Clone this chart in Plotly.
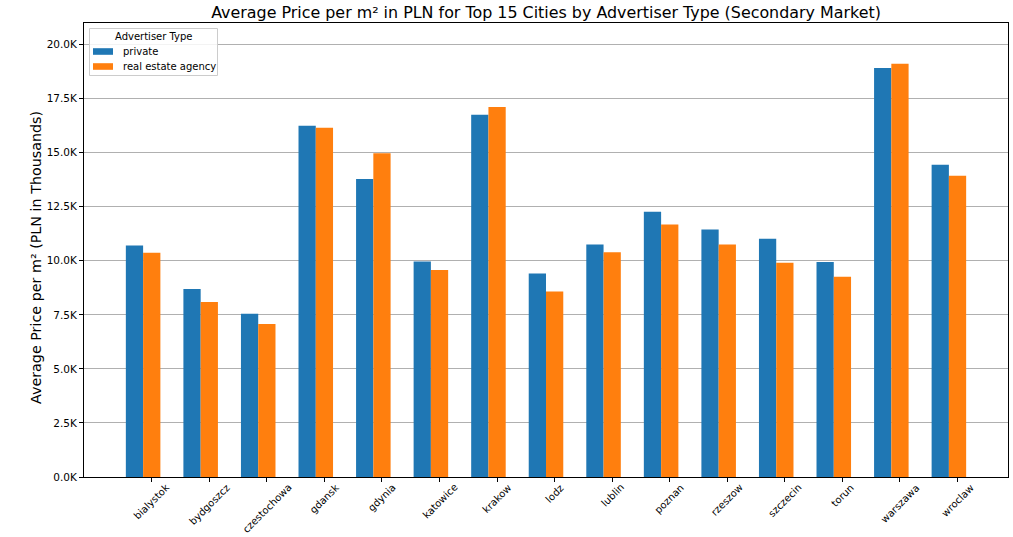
import plotly.graph_objects as go

cities = ["bialystok", "bydgoszcz", "czestochowa", "gdansk", "gdynia", "katowice", "krakow",
          "lodz", "lublin", "poznan", "rzeszow", "szczecin", "torun", "warszawa", "wroclaw"]
private = [10710, 8700, 7550, 16250, 13780, 9970, 16760, 9410, 10750, 12270, 11450, 11020, 9950, 18920, 14440]
agency = [10370, 8100, 7080, 16160, 14970, 9580, 17110, 8580, 10400, 11680, 10760, 9910, 9260, 19120, 13940]
ytick_vals = [0, 2500, 5000, 7500, 10000, 12500, 15000, 17500, 20000]
ytick_text = ["0.0K", "2.5K", "5.0K", "7.5K", "10.0K", "12.5K", "15.0K", "17.5K", "20.0K"]
series_names = ["private", "real estate agency"]
series_colors = ["#1f77b4", "#ff7f0e"]

W = 0.3
idx = list(range(len(cities)))
fig = go.Figure()
fig.add_trace(go.Bar(x=idx, y=private, width=W, name=series_names[0],
                     marker=dict(color=series_colors[0], line=dict(width=0))))
fig.add_trace(go.Bar(x=[i + W for i in idx], y=agency, width=W, name=series_names[1],
                     marker=dict(color=series_colors[1], line=dict(width=0))))

font = "DejaVu Sans, sans-serif"
# plot area in pixels
L, R, T, B = 84, 1008, 23, 477
def px(x):
    return (x - L) / (R - L)
def py(y):
    return (B - y) / (B - T)

annotations = []
# x tick labels, rotated 45 and centred under the tick (matplotlib style)
for i, c in enumerate(cities):
    annotations.append(dict(x=i + W, xref="x", y=0, yref="paper", text=c, showarrow=False,
                            textangle=-45, xanchor="center", yanchor="top", yshift=-2,
                            font=dict(size=10, family=font, color="black")))
# y axis title
annotations.append(dict(x=px(36), xref="paper", y=py(258), yref="paper",
                        text="Average Price per m² (PLN in Thousands)", showarrow=False,
                        textangle=-90, xanchor="center", yanchor="middle",
                        font=dict(size=14.3, family=font, color="black")))
# legend
annotations.append(dict(x=px(153.5), xref="paper", y=py(36), yref="paper", text="Advertiser Type",
                        showarrow=False, xanchor="center", yanchor="middle",
                        font=dict(size=10, family=font, color="black")))
shapes = [dict(type="rect", xref="paper", yref="paper", x0=px(89.5), x1=px(217.5), y0=py(75.5), y1=py(28.5),
               line=dict(color="#cccccc", width=1), fillcolor="rgba(255,255,255,0.85)", layer="above")]
for k, (nm, col) in enumerate(zip(series_names, series_colors)):
    yc = 51.5 + 15 * k
    shapes.append(dict(type="rect", xref="paper", yref="paper", x0=px(93), x1=px(113),
                       y0=py(yc + 3.3), y1=py(yc - 3.3), line=dict(width=0), fillcolor=col, layer="above"))
    annotations.append(dict(x=px(121), xref="paper", y=py(yc), yref="paper", text=nm, showarrow=False,
                            xanchor="left", yanchor="middle", font=dict(size=10, family=font, color="black")))

fig.update_layout(
    width=1013, height=537,
    margin=dict(l=L, r=1013 - R, t=T, b=537 - B, autoexpand=False),
    paper_bgcolor="white", plot_bgcolor="white",
    barmode="overlay",
    font=dict(family=font, size=10, color="black"),
    title=dict(text="Average Price per m² in PLN for Top 15 Cities by Advertiser Type (Secondary Market)",
               x=0.5, xref="paper", xanchor="center", y=1 - 12 / 537, yanchor="middle",
               font=dict(size=15.9, family=font, color="black")),
    showlegend=False,
    annotations=annotations,
    shapes=shapes,
    xaxis=dict(range=[-0.877, 15.177], tickmode="array", tickvals=[i + W for i in idx],
               showticklabels=False, ticks="outside", ticklen=4, tickcolor="black",
               showgrid=False, zeroline=False, showline=True, linecolor="black", linewidth=1,
               mirror=True, automargin=False),
    yaxis=dict(range=[0, 21000], tickmode="array", tickvals=ytick_vals, ticktext=ytick_text,
               ticks="outside", ticklen=4, tickcolor="black", showgrid=True, gridcolor="#b0b0b0",
               gridwidth=1, zeroline=False, showline=True, linecolor="black", linewidth=1,
               mirror=True, tickfont=dict(size=10.5), automargin=False),
)
fig.write_html("out.html")
